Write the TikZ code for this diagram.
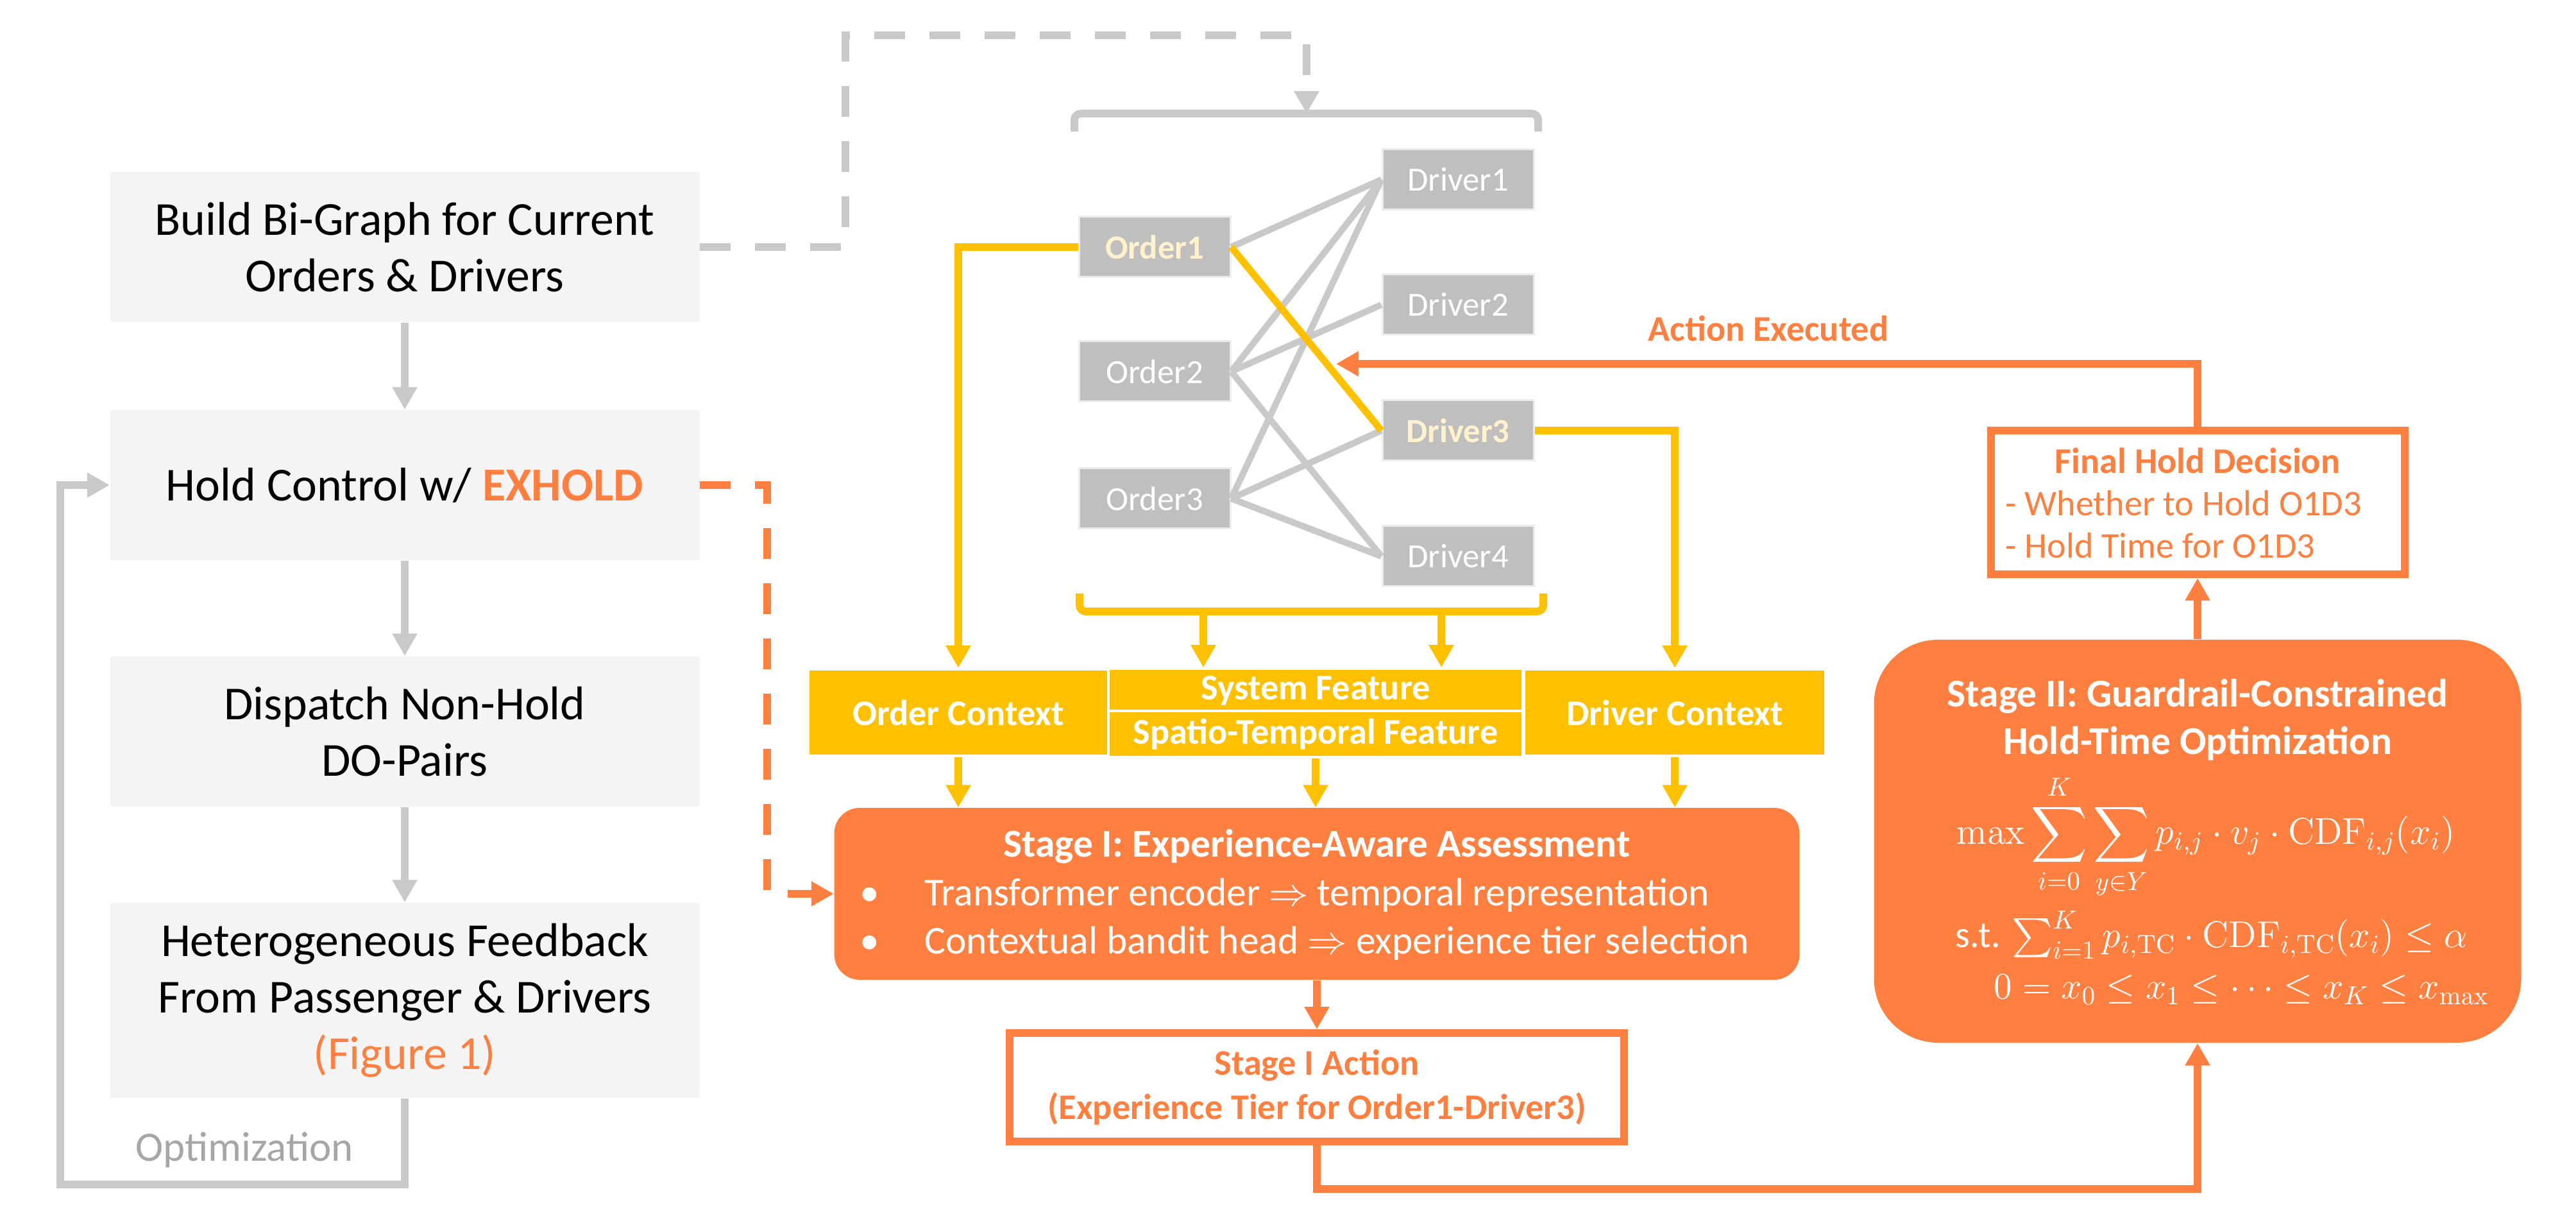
\RequirePackage{fix-cm}
\documentclass[tikz,border=0pt]{standalone}
\usepackage{amsmath}
\usepackage[no-math]{fontspec}
\setmainfont{Carlito}
\usetikzlibrary{arrows.meta}

\definecolor{boxgray}{HTML}{F4F4F4}
\definecolor{linegray}{HTML}{C9C9C9}
\definecolor{nodegray}{HTML}{BFBFBF}
\definecolor{exyellow}{HTML}{FFC000}
\definecolor{exorange}{HTML}{FF7F41}
\definecolor{textgray}{HTML}{A6A6A6}
\definecolor{paleyellow}{HTML}{FFF2CC}

\tikzset{
  stepbox/.style={fill=boxgray, minimum width=9.19cm, minimum height=2.34cm, align=center, font=\fontsize{21}{25}\selectfont},
  agent/.style={fill=nodegray, draw=white!70!nodegray, line width=0.3mm, text=white, minimum width=2.36cm, minimum height=0.94cm, font=\fontsize{15}{18}\selectfont},
  ctx/.style={fill=exyellow, draw=white, line width=0.4mm, text=white, font=\bfseries\fontsize{16}{19}\selectfont},
  outbox/.style={draw=exorange, fill=white, line width=1.2mm},
  gline/.style={linegray, line width=1.2mm},
  yline/.style={exyellow, line width=1.2mm},
  oline/.style={exorange, line width=1.2mm},
  dashline/.style={dash pattern=on 4.8mm off 3.8mm},
  wtext/.style={text=white, inner sep=0pt},
  otext/.style={text=exorange, inner sep=0pt}
}

\begin{document}
\begin{tikzpicture}[>={Triangle[width=3.7mm,length=3.5mm]}]
\useasboundingbox (0,0) rectangle (40.16,-18.92);

\node [stepbox] (build) at (6.31,-3.85) {Build Bi-Graph for Current\\Orders \& Drivers};
\node [stepbox] (hold) at (6.31,-7.56) {Hold Control w/ \textcolor{exorange}{\textbf{EXHOLD}}};
\node [stepbox] (disp) at (6.31,-11.40) {Dispatch Non-Hold\\DO-Pairs};
\node [stepbox, minimum height=3.04cm] (feed) at (6.31,-15.59) {Heterogeneous Feedback\\From Passenger \& Drivers\\\textcolor{exorange}{(Figure 1)}};
\draw [->,gline] (build) -- (hold); \draw [->,gline] (hold) -- (disp); \draw [->,gline] (disp) -- (feed);

\coordinate (optc) at (0.94,-18.46);
\draw [->,gline] (feed.south) |- (optc) |- (hold.west);
\node [text=textgray, font=\fontsize{18.5}{22}\selectfont] (opt) at (3.81,-17.92) {Optimization};

% bipartite graph of orders and drivers
\node [agent, text=paleyellow, font=\bfseries\fontsize{15}{18}\selectfont] (o1) at (18.00,-3.85) {Order1};
\node [agent] (o2) at (18.00,-5.79) {Order2};
\node [agent] (o3) at (18.00,-7.77) {Order3};
\node [agent] (d1) at (22.73,-2.80) {Driver1};
\node [agent] (d2) at (22.73,-4.75) {Driver2};
\node [agent, text=paleyellow, font=\bfseries\fontsize{15}{18}\selectfont] (d3) at (22.73,-6.71) {Driver3};
\node [agent] (d4) at (22.73,-8.67) {Driver4};
\foreach \a/\b in {o1/d1,o2/d1,o2/d2,o2/d4,o3/d1,o3/d3,o3/d4}
  \draw [linegray, line width=1mm] (\a.east) -- (\b.west);
\draw [exyellow, line width=1.1mm] (o1.east) -- (d3.west);

\coordinate (dA) at (13.18,-0.55); \coordinate (brtop) at (20.37,-1.77);
\draw [->,gline,dashline] (build.east) -| (dA) -| (brtop);
\draw [gline, rounded corners=1mm] (16.75,-2.05) |- (brtop) -| (23.98,-2.05);

% context features
\node [ctx, minimum width=4.68cm, minimum height=1.35cm] (octx) at (14.94,-11.105) {Order Context};
\node [ctx, minimum width=6.46cm, minimum height=0.675cm] (sys) at (20.51,-10.768) {System Feature};
\node [ctx, minimum width=6.46cm, minimum height=0.675cm] (spt) at (20.51,-11.443) {Spatio-Temporal Feature};
\node [ctx, minimum width=4.70cm, minimum height=1.35cm] (dctx) at (26.11,-11.105) {Driver Context};

\draw [->,yline] (o1.west) -| (octx.north);
\draw [->,yline] (d3.east) -| (dctx.north);
\coordinate (brbot) at (20.44,-9.53);
\draw [yline, rounded corners=1mm] (16.83,-9.25) |- (brbot) -| (24.06,-9.25);
\coordinate (bk1) at (18.76,-9.53); \coordinate (bk2) at (22.47,-9.53);
\draw [->,yline] (bk1) -- (bk1 |- sys.north); \draw [->,yline] (bk2) -- (bk2 |- sys.north);

% stage I
\node [fill=exorange, rounded corners=4mm, minimum width=15.05cm, minimum height=2.68cm] (stageI) at (20.53,-13.93) {};
\draw [->,yline] (octx.south) -- (octx.south |- stageI.north);
\draw [->,yline] (spt.south) -- (spt.south |- stageI.north);
\draw [->,yline] (dctx.south) -- (dctx.south |- stageI.north);
\node [wtext, font=\bfseries\fontsize{17.5}{21}\selectfont] (s1title) at (20.53,-13.19) {Stage I: Experience-Aware Assessment};
\node [wtext, anchor=west, font=\fontsize{17.5}{21}\selectfont] (s1b1) at (13.40,-13.95) {\textbullet\hspace{7mm}Transformer encoder $\Rightarrow$ temporal representation};
\node [wtext, anchor=west, font=\fontsize{17.5}{21}\selectfont] (s1b2) at (13.40,-14.70) {\textbullet\hspace{7mm}Contextual bandit head $\Rightarrow$ experience tier selection};

\coordinate (hdA) at (11.96,-7.56);
\draw [->,oline,dashline] (hold.east) -- (hdA) |- (stageI.west);

\node [outbox, minimum width=9.58cm, minimum height=1.69cm] (act) at (20.53,-16.945) {};
\node [otext, align=center, font=\bfseries\fontsize{16}{19.5}\selectfont] (acttext) at (act) {Stage I Action\\(Experience Tier for Order1-Driver3)};
\draw [->,oline] (stageI.south) -- (act.north);

% stage II
\node [fill=exorange, rounded corners=1cm, minimum width=10.09cm, minimum height=6.28cm] (stageII) at (34.26,-13.11) {};
\node [wtext, align=center, font=\bfseries\fontsize{17.5}{21}\selectfont] (s2title) at (34.26,-11.22) {Stage II: Guardrail-Constrained\\Hold-Time Optimization};
\node [wtext, anchor=west, font=\fontsize{16.5}{19}\selectfont] (f1) at (30.50,-13.04) {$\displaystyle \max\sum_{i=0}^{K}\sum_{y\in Y} p_{i,j}\cdot v_j\cdot \mathrm{CDF}_{i,j}(x_i)$};
\node [wtext, anchor=west, font=\fontsize{16.5}{19}\selectfont] (f2) at (30.48,-14.57) {s.t. $\sum_{i=1}^{K} p_{i,\mathrm{TC}}\cdot \mathrm{CDF}_{i,\mathrm{TC}}(x_i)\le\alpha$};
\node [wtext, anchor=west, font=\fontsize{16.5}{19}\selectfont] (f3) at (31.08,-15.42) {$0=x_0\le x_1\le\cdots\le x_K\le x_{\max}$};

\coordinate (botR) at (34.26,-18.53);
\draw [->,oline] (act.south) |- (botR) -- (stageII.south);

\node [outbox, minimum width=6.45cm, minimum height=2.24cm] (final) at (34.26,-7.83) {};
\node [otext, font=\bfseries\fontsize{16}{19}\selectfont] (fhd) at (34.26,-7.18) {Final Hold Decision};
\node [otext, anchor=west, font=\fontsize{16}{19}\selectfont] (fh1) at (31.26,-7.84) {- Whether to Hold O1D3};
\node [otext, anchor=west, font=\fontsize{16}{19}\selectfont] (fh2) at (31.26,-8.50) {- Hold Time for O1D3};
\draw [->,oline] (stageII.north) -- (final.south);

\coordinate (aeC) at (34.26,-5.67); \coordinate (aeL) at (20.83,-5.67);
\draw [->,oline] (final.north) -- (aeC) -- (aeL);
\node [otext, font=\bfseries\fontsize{16}{19}\selectfont] (aelabel) at (27.57,-5.12) {Action Executed};

\end{tikzpicture}
\end{document}
